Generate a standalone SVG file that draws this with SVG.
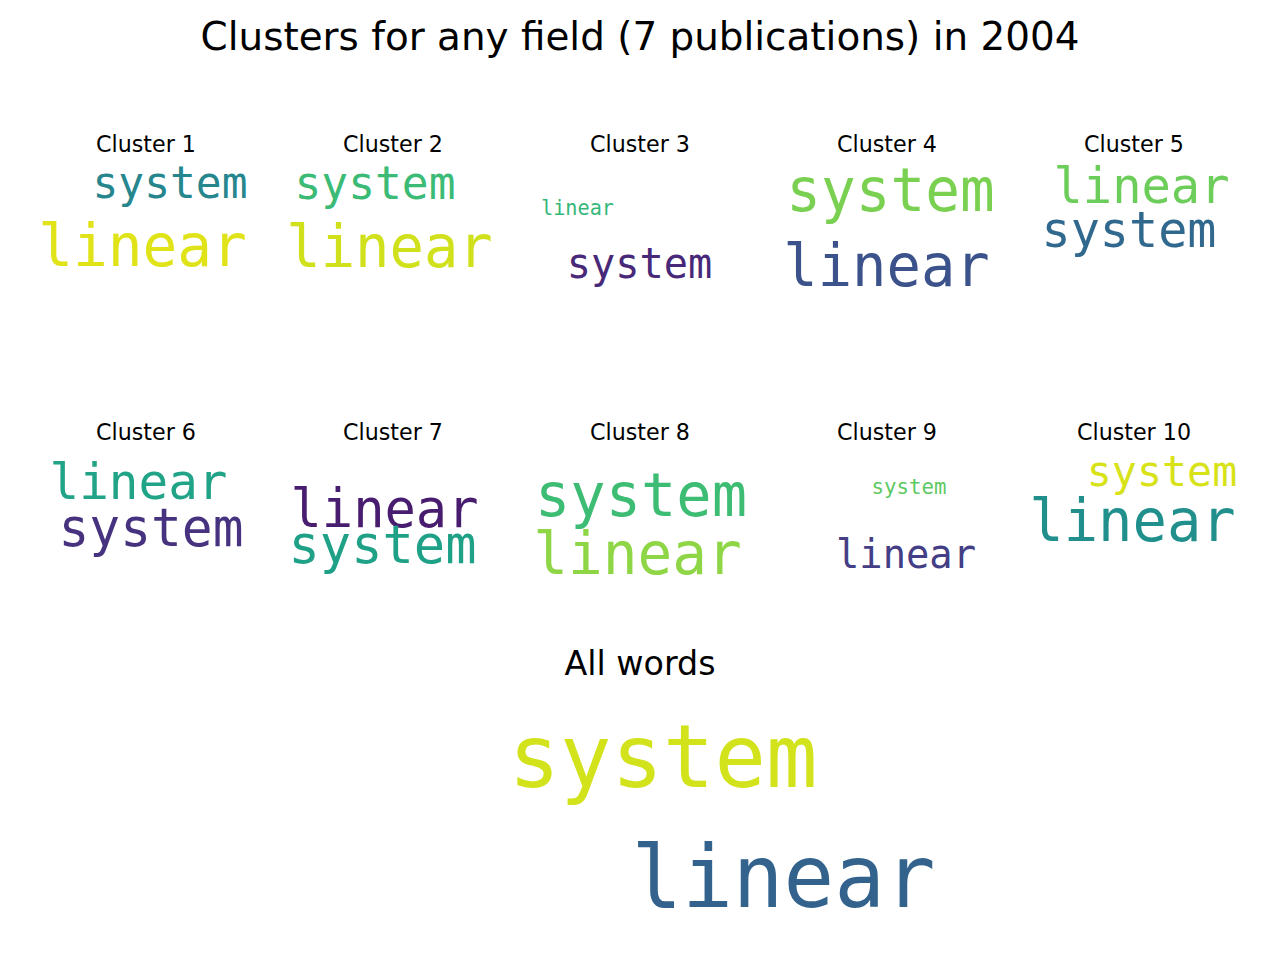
<svg xmlns="http://www.w3.org/2000/svg" width="1280" height="960" viewBox="0 0 1280 960">
<style>
.t{font-family:"DejaVu Sans","Liberation Sans",sans-serif;fill:#000;text-anchor:middle}
.ct{font-size:22.2px}
.w{font-family:"DejaVu Sans Mono","Liberation Mono",monospace;text-anchor:middle}
</style>
<rect width="1280" height="960" fill="#fff"/>
<text id="title" class="t" x="640" y="50" font-size="38.9">Clusters for any field (7 publications) in 2004</text>
<g id="cluster1">
<text class="t ct" x="146" y="151.5">Cluster 1</text>
<text class="w" x="170" y="198" font-size="44" textLength="155" lengthAdjust="spacingAndGlyphs" fill="#26868e">system</text>
<text class="w" x="142.5" y="266" font-size="59" textLength="208.5" lengthAdjust="spacingAndGlyphs" fill="#dfe318">linear</text>
</g>
<g id="cluster2">
<text class="t ct" x="393" y="151.5">Cluster 2</text>
<text class="w" x="375" y="199" font-size="46" textLength="161" lengthAdjust="spacingAndGlyphs" fill="#3bbb75">system</text>
<text class="w" x="389.5" y="267" font-size="59" textLength="206.5" lengthAdjust="spacingAndGlyphs" fill="#d0e11c">linear</text>
</g>
<g id="cluster3">
<text class="t ct" x="640" y="151.5">Cluster 3</text>
<text class="w" x="577.5" y="215" font-size="21" textLength="73" lengthAdjust="spacingAndGlyphs" fill="#35b779">linear</text>
<text class="w" x="639.5" y="278" font-size="42" textLength="145.5" lengthAdjust="spacingAndGlyphs" fill="#482878">system</text>
</g>
<g id="cluster4">
<text class="t ct" x="887" y="151.5">Cluster 4</text>
<text class="w" x="890.5" y="211" font-size="60" textLength="208.5" lengthAdjust="spacingAndGlyphs" fill="#7ad151">system</text>
<text class="w" x="886.5" y="286" font-size="59" textLength="206.5" lengthAdjust="spacingAndGlyphs" fill="#3b528b">linear</text>
</g>
<g id="cluster5">
<text class="t ct" x="1134" y="151.5">Cluster 5</text>
<text class="w" x="1141.5" y="203" font-size="50" textLength="176" lengthAdjust="spacingAndGlyphs" fill="#6ccd5a">linear</text>
<text class="w" x="1129" y="247" font-size="50" textLength="175" lengthAdjust="spacingAndGlyphs" fill="#31688e">system</text>
</g>
<g id="cluster6">
<text class="t ct" x="146" y="439.5">Cluster 6</text>
<text class="w" x="138.5" y="499" font-size="50" textLength="178" lengthAdjust="spacingAndGlyphs" fill="#20a386">linear</text>
<text class="w" x="151" y="546" font-size="53" textLength="185" lengthAdjust="spacingAndGlyphs" fill="#46327e">system</text>
</g>
<g id="cluster7">
<text class="t ct" x="393" y="439.5">Cluster 7</text>
<text class="w" x="384.5" y="527" font-size="53" textLength="188" lengthAdjust="spacingAndGlyphs" fill="#481c6e">linear</text>
<text class="w" x="382.5" y="563" font-size="54" textLength="188" lengthAdjust="spacingAndGlyphs" fill="#1fa187">system</text>
</g>
<g id="cluster8">
<text class="t ct" x="640" y="439.5">Cluster 8</text>
<text class="w" x="641" y="516" font-size="61" textLength="212" lengthAdjust="spacingAndGlyphs" fill="#3dbc74">system</text>
<text class="w" x="637.5" y="574" font-size="59" textLength="208.5" lengthAdjust="spacingAndGlyphs" fill="#8ed645">linear</text>
</g>
<g id="cluster9">
<text class="t ct" x="887" y="439.5">Cluster 9</text>
<text class="w" x="909" y="494" font-size="21" textLength="75" lengthAdjust="spacingAndGlyphs" fill="#5ec962">system</text>
<text class="w" x="906" y="568" font-size="40" textLength="140" lengthAdjust="spacingAndGlyphs" fill="#433e85">linear</text>
</g>
<g id="cluster10">
<text class="t ct" x="1134" y="439.5">Cluster 10</text>
<text class="w" x="1162" y="486" font-size="43" textLength="150.5" lengthAdjust="spacingAndGlyphs" fill="#d8e219">system</text>
<text class="w" x="1132.5" y="541" font-size="59" textLength="206.5" lengthAdjust="spacingAndGlyphs" fill="#21908d">linear</text>
</g>
<g id="allwords">
<text class="t" x="640" y="675" font-size="33.3">All words</text>
<text class="w" x="663" y="787" font-size="88" textLength="309" lengthAdjust="spacingAndGlyphs" fill="#d2e21b">system</text>
<text class="w" x="783.5" y="907" font-size="87" textLength="304" lengthAdjust="spacingAndGlyphs" fill="#33638d">linear</text>
</g>
</svg>
